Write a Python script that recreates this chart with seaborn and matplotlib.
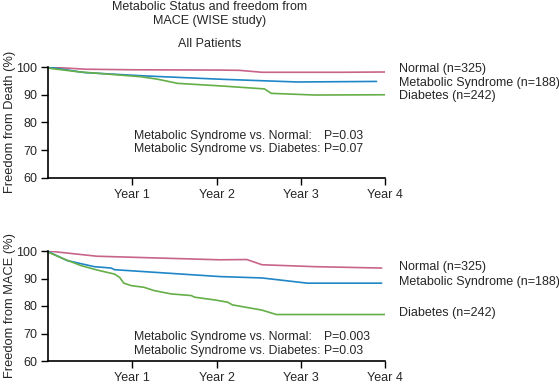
import numpy as np
import pandas as pd
import seaborn as sns
import matplotlib.pyplot as plt

# ---- data ----
groups = ["Normal", "Metabolic Syndrome", "Diabetes"]
legend_labels = ["Normal (n=325)", "Metabolic Syndrome (n=188)", "Diabetes (n=242)"]
colors = ["#c8648a", "#1f86c8", "#66ae48"]

# freedom from death
death_normal_x = [0, 0.45, 1.0, 2.0, 2.27, 2.54, 3.5, 4.0]
death_normal_y = [100, 99.2, 99.0, 98.9, 98.8, 98.1, 98.1, 98.2]
death_mets_x = [0, 0.43, 1.14, 2.04, 2.96, 3.9]
death_mets_y = [100, 98.0, 96.8, 95.6, 94.6, 94.8]
death_diab_x = [0, 0.35, 1.1, 1.3, 1.54, 2.04, 2.57, 2.65, 3.17, 4.0]
death_diab_y = [99.6, 98.3, 96.5, 95.6, 94.1, 93.2, 92.1, 90.5, 89.9, 90.0]

# freedom from MACE
mace_normal_x = [0, 0.58, 2.04, 2.36, 2.54, 3.17, 3.96]
mace_normal_y = [100, 98.1, 96.8, 96.9, 95.0, 94.3, 93.8]
mace_mets_x = [0, 0.23, 0.55, 0.75, 0.79, 2.04, 2.54, 3.08, 3.96]
mace_mets_y = [99.8, 96.5, 94.3, 93.8, 93.2, 90.7, 90.2, 88.3, 88.3]
mace_diab_x = [0, 0.19, 0.39, 0.58, 0.79, 0.85, 0.9, 0.99, 1.14, 1.26, 1.46,
               1.7, 1.74, 1.98, 2.13, 2.19, 2.54, 2.71, 4.0]
mace_diab_y = [99.6, 97.1, 94.7, 93.1, 91.6, 90.4, 88.3, 87.4, 86.8, 85.6, 84.4,
               83.8, 83.2, 82.2, 81.4, 80.4, 78.5, 76.9, 76.9]

year_ticks = [1, 2, 3, 4]
year_labels = ["Year 1", "Year 2", "Year 3", "Year 4"]
y_ticks = [60, 70, 80, 90, 100]

death_p = ["P=0.03", "P=0.07"]
mace_p = ["P=0.003", "P=0.03"]
comparisons = ["Metabolic Syndrome vs. Normal:", "Metabolic Syndrome vs. Diabetes:"]


def make_df(xs, ys):
    rows = []
    for g, x, y in zip(groups, xs, ys):
        for a, b in zip(x, y):
            rows.append({"group": g, "year": a, "value": b})
    return pd.DataFrame(rows)


death_df = make_df([death_normal_x, death_mets_x, death_diab_x],
                   [death_normal_y, death_mets_y, death_diab_y])
mace_df = make_df([mace_normal_x, mace_mets_x, mace_diab_x],
                  [mace_normal_y, mace_mets_y, mace_diab_y])

sns.set_style("ticks")
plt.rcParams["font.family"] = ["Liberation Sans", "DejaVu Sans"]

W, H = 559, 385
fig = plt.figure(figsize=(W / 100, H / 100), dpi=100)


def px(x, y):
    return x / W, 1 - y / H


def panel(df, top, bottom, ylabel, ylabel_y, label_ys, p_ys, pvals):
    ax = fig.add_axes([48 / W, 1 - bottom / H, (385 - 48) / W, (bottom - top) / H])
    sns.lineplot(data=df, x="year", y="value", hue="group", palette=colors,
                 hue_order=groups, linewidth=1.2, legend=False, ax=ax,
                 estimator=None, sort=False)
    ax.set_xlim(0, 4)
    ax.set_ylim(60, 100)
    ax.set_xticks(year_ticks)
    ax.set_xticklabels(year_labels, fontsize=9)
    ax.set_yticks(y_ticks)
    ax.tick_params(axis="y", labelsize=9)
    ax.tick_params(length=5, width=1, color="black", pad=3)
    ax.set_xlabel("")
    ax.set_ylabel("")
    sns.despine(ax=ax)
    for s in ["left", "bottom"]:
        ax.spines[s].set_linewidth(1.2)
        ax.spines[s].set_color("black")
    fig.text(*px(10, ylabel_y), ylabel, rotation=90, fontsize=9.3,
             ha="center", va="center")
    for lab, yy in zip(legend_labels, label_ys):
        fig.text(*px(399, yy), lab, fontsize=9, ha="left", va="center")
    for c, p, yy in zip(comparisons, pvals, p_ys):
        fig.text(*px(134, yy), c, fontsize=8.8, ha="left", va="center")
        fig.text(*px(324, yy), p, fontsize=8.8, ha="left", va="center")
    return ax


panel(death_df, 67, 178, "Freedom from Death (%)", 122,
      [69, 82.7, 96], [136, 149], death_p)
panel(mace_df, 251, 361, "Freedom from MACE (%)", 306,
      [266.7, 282.3, 312.7], [337, 351], mace_p)

fig.text(*px(210, 7), "Metabolic Status and freedom from", fontsize=9,
         ha="center", va="center")
fig.text(*px(210, 21), "MACE (WISE study)", fontsize=9, ha="center", va="center")
fig.text(*px(210, 44), "All Patients", fontsize=9, ha="center", va="center")

fig.savefig("out.png", dpi=100)
